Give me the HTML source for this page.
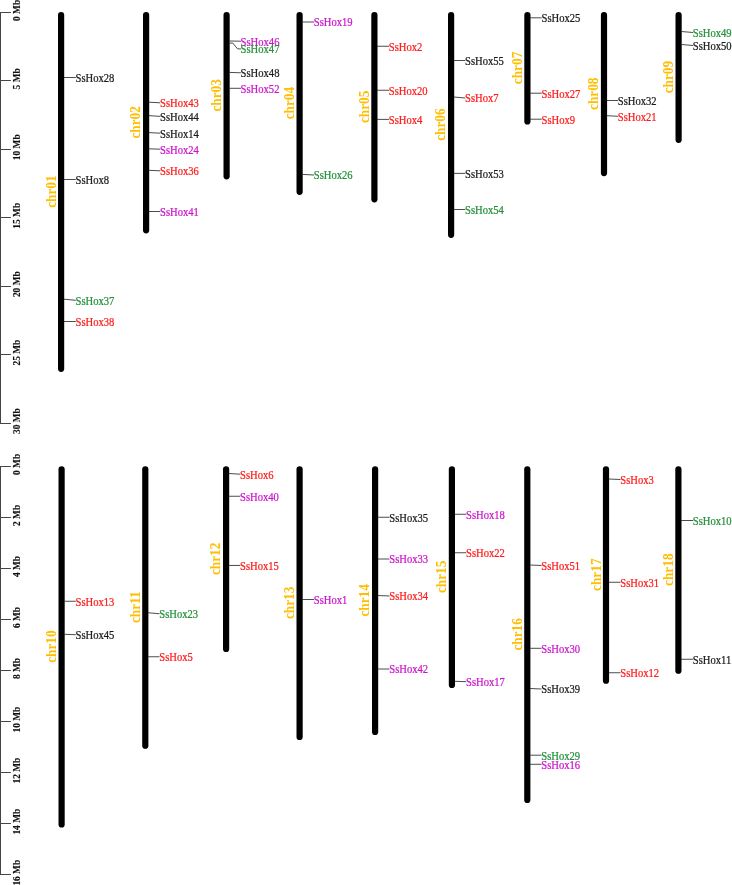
<!DOCTYPE html>
<html lang="en">
<head>
<meta charset="utf-8">
<title>SsHox chromosome map</title>
<style>
html,body{margin:0;padding:0;background:#fff;}
body{width:732px;height:885px;overflow:hidden;}
svg{display:block;}
.ax{font-family:"Liberation Serif","Times New Roman",serif;font-weight:bold;font-size:9.4px;fill:#111;stroke:#111;stroke-width:0.12;text-anchor:middle;}
.ch{font-family:"Liberation Serif","Times New Roman",serif;font-weight:bold;font-size:13.3px;fill:#ffbe00;text-anchor:middle;}
.g{font-family:"Liberation Serif","Times New Roman",serif;font-size:10.6px;stroke-width:0.22;}
.bar{stroke:#000;stroke-width:6.2;stroke-linecap:round;fill:none;}
.ln{stroke:#1e1e1e;stroke-width:0.8;fill:none;}
.tk{stroke:#454545;stroke-width:1;fill:none;}
</style>
</head>
<body>
<svg width="732" height="885" viewBox="0 0 732 885">
<rect x="0" y="0" width="732" height="885" fill="#ffffff"/>

<path class="tk" d="M0.5 12.00 V424.00"/>
<path class="tk" d="M0 12.50 H10.9"/>
<text class="ax" transform="translate(20.0 10.40) rotate(-90)">0 Mb</text>
<path class="tk" d="M0 80.50 H10.9"/>
<text class="ax" transform="translate(20.0 78.85) rotate(-90)">5 Mb</text>
<path class="tk" d="M0 149.50 H10.9"/>
<text class="ax" transform="translate(20.0 147.30) rotate(-90)">10 Mb</text>
<path class="tk" d="M0 217.50 H10.9"/>
<text class="ax" transform="translate(20.0 215.75) rotate(-90)">15 Mb</text>
<path class="tk" d="M0 286.50 H10.9"/>
<text class="ax" transform="translate(20.0 284.20) rotate(-90)">20 Mb</text>
<path class="tk" d="M0 354.50 H10.9"/>
<text class="ax" transform="translate(20.0 352.65) rotate(-90)">25 Mb</text>
<path class="tk" d="M0 423.50 H10.9"/>
<text class="ax" transform="translate(20.0 421.10) rotate(-90)">30 Mb</text>
<path class="tk" d="M0.5 466.00 V875.00"/>
<path class="tk" d="M0 466.50 H10.9"/>
<text class="ax" transform="translate(20.0 464.40) rotate(-90)">0 Mb</text>
<path class="tk" d="M0 517.50 H10.9"/>
<text class="ax" transform="translate(20.0 515.44) rotate(-90)">2 Mb</text>
<path class="tk" d="M0 568.50 H10.9"/>
<text class="ax" transform="translate(20.0 566.48) rotate(-90)">4 Mb</text>
<path class="tk" d="M0 619.50 H10.9"/>
<text class="ax" transform="translate(20.0 617.52) rotate(-90)">6 Mb</text>
<path class="tk" d="M0 670.50 H10.9"/>
<text class="ax" transform="translate(20.0 668.56) rotate(-90)">8 Mb</text>
<path class="tk" d="M0 721.50 H10.9"/>
<text class="ax" transform="translate(20.0 719.60) rotate(-90)">10 Mb</text>
<path class="tk" d="M0 772.50 H10.9"/>
<text class="ax" transform="translate(20.0 770.64) rotate(-90)">12 Mb</text>
<path class="tk" d="M0 823.50 H10.9"/>
<text class="ax" transform="translate(20.0 821.68) rotate(-90)">14 Mb</text>
<path class="tk" d="M0 874.50 H10.9"/>
<text class="ax" transform="translate(20.0 872.72) rotate(-90)">16 Mb</text>
<path class="bar" d="M61.10 15.00 V368.80"/>
<text class="ch" transform="translate(56.40 191.60) rotate(-90) scale(1 1.06)">chr01</text>
<path class="ln" d="M63.90 77.50 H75.80"/>
<text class="g" transform="translate(75.50 81.90) scale(1 1.08)" fill="#1a1a1a" stroke="#1a1a1a">SsHox28</text>
<path class="ln" d="M63.90 179.50 H75.80"/>
<text class="g" transform="translate(75.50 183.90) scale(1 1.08)" fill="#1a1a1a" stroke="#1a1a1a">SsHox8</text>
<path class="ln" d="M63.90 299.20 L75.80 300.30"/>
<text class="g" transform="translate(75.50 304.70) scale(1 1.08)" fill="#23903a" stroke="#23903a">SsHox37</text>
<path class="ln" d="M63.90 321.50 H75.80"/>
<text class="g" transform="translate(75.50 325.90) scale(1 1.08)" fill="#ff1a1a" stroke="#ff1a1a">SsHox38</text>
<path class="bar" d="M146.10 15.00 V230.30"/>
<text class="ch" transform="translate(140.40 122.35) rotate(-90) scale(1 1.06)">chr02</text>
<path class="ln" d="M148.90 102.20 L160.30 102.80"/>
<text class="g" transform="translate(160.00 107.20) scale(1 1.08)" fill="#ff1a1a" stroke="#ff1a1a">SsHox43</text>
<path class="ln" d="M148.90 115.60 L160.30 116.40"/>
<text class="g" transform="translate(160.00 120.80) scale(1 1.08)" fill="#1a1a1a" stroke="#1a1a1a">SsHox44</text>
<path class="ln" d="M148.90 132.60 L160.30 133.20"/>
<text class="g" transform="translate(160.00 137.60) scale(1 1.08)" fill="#1a1a1a" stroke="#1a1a1a">SsHox14</text>
<path class="ln" d="M148.90 148.80 L160.30 149.20"/>
<text class="g" transform="translate(160.00 153.60) scale(1 1.08)" fill="#cc14cc" stroke="#cc14cc">SsHox24</text>
<path class="ln" d="M148.90 170.30 L160.30 170.80"/>
<text class="g" transform="translate(160.00 175.20) scale(1 1.08)" fill="#ff1a1a" stroke="#ff1a1a">SsHox36</text>
<path class="ln" d="M148.90 211.50 H160.30"/>
<text class="g" transform="translate(160.00 215.90) scale(1 1.08)" fill="#cc14cc" stroke="#cc14cc">SsHox41</text>
<path class="bar" d="M226.60 15.00 V176.30"/>
<text class="ch" transform="translate(220.90 95.35) rotate(-90) scale(1 1.06)">chr03</text>
<path class="ln" d="M229.40 41.00 L240.90 41.20"/>
<text class="g" transform="translate(240.60 45.60) scale(1 1.08)" fill="#cc14cc" stroke="#cc14cc">SsHox46</text>
<path class="ln" d="M229.40 43.10 H232.80 L237.60 48.90 H240.90"/>
<text class="g" transform="translate(240.60 53.30) scale(1 1.08)" fill="#23903a" stroke="#23903a">SsHox47</text>
<path class="ln" d="M229.40 72.40 L240.90 72.80"/>
<text class="g" transform="translate(240.60 77.20) scale(1 1.08)" fill="#1a1a1a" stroke="#1a1a1a">SsHox48</text>
<path class="ln" d="M229.40 88.30 H240.90"/>
<text class="g" transform="translate(240.60 92.70) scale(1 1.08)" fill="#cc14cc" stroke="#cc14cc">SsHox52</text>
<path class="bar" d="M299.60 15.00 V191.80"/>
<text class="ch" transform="translate(293.90 103.10) rotate(-90) scale(1 1.06)">chr04</text>
<path class="ln" d="M302.40 22.00 H314.05"/>
<text class="g" transform="translate(313.75 26.40) scale(1 1.08)" fill="#cc14cc" stroke="#cc14cc">SsHox19</text>
<path class="ln" d="M302.40 174.40 L314.05 175.00"/>
<text class="g" transform="translate(313.75 179.40) scale(1 1.08)" fill="#23903a" stroke="#23903a">SsHox26</text>
<path class="bar" d="M374.40 15.00 V199.30"/>
<text class="ch" transform="translate(369.10 106.85) rotate(-90) scale(1 1.06)">chr05</text>
<path class="ln" d="M377.20 46.25 H389.05"/>
<text class="g" transform="translate(388.75 50.65) scale(1 1.08)" fill="#ff1a1a" stroke="#ff1a1a">SsHox2</text>
<path class="ln" d="M377.20 90.25 H389.05"/>
<text class="g" transform="translate(388.75 94.65) scale(1 1.08)" fill="#ff1a1a" stroke="#ff1a1a">SsHox20</text>
<path class="ln" d="M377.20 119.40 H389.05"/>
<text class="g" transform="translate(388.75 123.80) scale(1 1.08)" fill="#ff1a1a" stroke="#ff1a1a">SsHox4</text>
<path class="bar" d="M451.10 15.00 V234.80"/>
<text class="ch" transform="translate(445.40 124.60) rotate(-90) scale(1 1.06)">chr06</text>
<path class="ln" d="M453.90 60.50 H465.30"/>
<text class="g" transform="translate(465.00 64.90) scale(1 1.08)" fill="#1a1a1a" stroke="#1a1a1a">SsHox55</text>
<path class="ln" d="M453.90 97.00 L465.30 98.00"/>
<text class="g" transform="translate(465.00 102.40) scale(1 1.08)" fill="#ff1a1a" stroke="#ff1a1a">SsHox7</text>
<path class="ln" d="M453.90 173.40 H465.30"/>
<text class="g" transform="translate(465.00 177.80) scale(1 1.08)" fill="#1a1a1a" stroke="#1a1a1a">SsHox53</text>
<path class="ln" d="M453.90 209.50 H465.30"/>
<text class="g" transform="translate(465.00 213.90) scale(1 1.08)" fill="#23903a" stroke="#23903a">SsHox54</text>
<path class="bar" d="M527.40 15.00 V121.50"/>
<text class="ch" transform="translate(521.70 67.95) rotate(-90) scale(1 1.06)">chr07</text>
<path class="ln" d="M530.20 17.80 H541.80"/>
<text class="g" transform="translate(541.50 22.20) scale(1 1.08)" fill="#1a1a1a" stroke="#1a1a1a">SsHox25</text>
<path class="ln" d="M530.20 93.20 H541.80"/>
<text class="g" transform="translate(541.50 97.60) scale(1 1.08)" fill="#ff1a1a" stroke="#ff1a1a">SsHox27</text>
<path class="ln" d="M530.20 119.20 H541.80"/>
<text class="g" transform="translate(541.50 123.60) scale(1 1.08)" fill="#ff1a1a" stroke="#ff1a1a">SsHox9</text>
<path class="bar" d="M604.00 15.00 V173.05"/>
<text class="ch" transform="translate(598.30 93.73) rotate(-90) scale(1 1.06)">chr08</text>
<path class="ln" d="M606.80 100.50 H618.05"/>
<text class="g" transform="translate(617.75 104.90) scale(1 1.08)" fill="#1a1a1a" stroke="#1a1a1a">SsHox32</text>
<path class="ln" d="M606.80 115.70 L618.05 116.30"/>
<text class="g" transform="translate(617.75 120.70) scale(1 1.08)" fill="#ff1a1a" stroke="#ff1a1a">SsHox21</text>
<path class="bar" d="M678.60 15.00 V139.80"/>
<text class="ch" transform="translate(672.90 77.10) rotate(-90) scale(1 1.06)">chr09</text>
<path class="ln" d="M681.40 31.50 L693.05 32.50"/>
<text class="g" transform="translate(692.75 36.90) scale(1 1.08)" fill="#23903a" stroke="#23903a">SsHox49</text>
<path class="ln" d="M681.40 44.50 L693.05 45.50"/>
<text class="g" transform="translate(692.75 49.90) scale(1 1.08)" fill="#1a1a1a" stroke="#1a1a1a">SsHox50</text>
<path class="bar" d="M61.60 469.35 V824.50"/>
<text class="ch" transform="translate(55.90 646.62) rotate(-90) scale(1 1.06)">chr10</text>
<path class="ln" d="M64.40 601.25 H75.80"/>
<text class="g" transform="translate(75.50 605.65) scale(1 1.08)" fill="#ff1a1a" stroke="#ff1a1a">SsHox13</text>
<path class="ln" d="M64.40 634.30 L75.80 634.70"/>
<text class="g" transform="translate(75.50 639.10) scale(1 1.08)" fill="#1a1a1a" stroke="#1a1a1a">SsHox45</text>
<path class="bar" d="M145.30 469.35 V745.65"/>
<text class="ch" transform="translate(139.60 607.20) rotate(-90) scale(1 1.06)">chr11</text>
<path class="ln" d="M148.10 612.75 L159.55 613.75"/>
<text class="g" transform="translate(159.25 618.15) scale(1 1.08)" fill="#23903a" stroke="#23903a">SsHox23</text>
<path class="ln" d="M148.10 656.75 H159.55"/>
<text class="g" transform="translate(159.25 661.15) scale(1 1.08)" fill="#ff1a1a" stroke="#ff1a1a">SsHox5</text>
<path class="bar" d="M226.10 469.35 V648.90"/>
<text class="ch" transform="translate(220.40 558.83) rotate(-90) scale(1 1.06)">chr12</text>
<path class="ln" d="M228.90 473.50 L240.30 474.20"/>
<text class="g" transform="translate(240.00 478.60) scale(1 1.08)" fill="#ff1a1a" stroke="#ff1a1a">SsHox6</text>
<path class="ln" d="M228.90 496.25 H240.30"/>
<text class="g" transform="translate(240.00 500.65) scale(1 1.08)" fill="#cc14cc" stroke="#cc14cc">SsHox40</text>
<path class="ln" d="M228.90 565.45 H240.30"/>
<text class="g" transform="translate(240.00 569.85) scale(1 1.08)" fill="#ff1a1a" stroke="#ff1a1a">SsHox15</text>
<path class="bar" d="M299.60 469.35 V736.90"/>
<text class="ch" transform="translate(293.90 602.83) rotate(-90) scale(1 1.06)">chr13</text>
<path class="ln" d="M302.40 599.50 H314.05"/>
<text class="g" transform="translate(313.75 603.90) scale(1 1.08)" fill="#cc14cc" stroke="#cc14cc">SsHox1</text>
<path class="bar" d="M375.10 469.35 V731.90"/>
<text class="ch" transform="translate(369.40 600.33) rotate(-90) scale(1 1.06)">chr14</text>
<path class="ln" d="M377.90 517.25 H389.55"/>
<text class="g" transform="translate(389.25 521.65) scale(1 1.08)" fill="#1a1a1a" stroke="#1a1a1a">SsHox35</text>
<path class="ln" d="M377.90 559.00 H389.55"/>
<text class="g" transform="translate(389.25 563.40) scale(1 1.08)" fill="#cc14cc" stroke="#cc14cc">SsHox33</text>
<path class="ln" d="M377.90 595.50 L389.55 596.00"/>
<text class="g" transform="translate(389.25 600.40) scale(1 1.08)" fill="#ff1a1a" stroke="#ff1a1a">SsHox34</text>
<path class="ln" d="M377.90 669.00 H389.55"/>
<text class="g" transform="translate(389.25 673.40) scale(1 1.08)" fill="#cc14cc" stroke="#cc14cc">SsHox42</text>
<path class="bar" d="M451.90 469.35 V684.90"/>
<text class="ch" transform="translate(446.20 576.83) rotate(-90) scale(1 1.06)">chr15</text>
<path class="ln" d="M454.70 514.25 H466.30"/>
<text class="g" transform="translate(466.00 518.65) scale(1 1.08)" fill="#cc14cc" stroke="#cc14cc">SsHox18</text>
<path class="ln" d="M454.70 552.75 H466.30"/>
<text class="g" transform="translate(466.00 557.15) scale(1 1.08)" fill="#ff1a1a" stroke="#ff1a1a">SsHox22</text>
<path class="ln" d="M454.70 681.30 L466.30 681.70"/>
<text class="g" transform="translate(466.00 686.10) scale(1 1.08)" fill="#cc14cc" stroke="#cc14cc">SsHox17</text>
<path class="bar" d="M527.30 469.35 V799.90"/>
<text class="ch" transform="translate(521.60 634.33) rotate(-90) scale(1 1.06)">chr16</text>
<path class="ln" d="M530.10 565.00 L541.55 565.50"/>
<text class="g" transform="translate(541.25 569.90) scale(1 1.08)" fill="#ff1a1a" stroke="#ff1a1a">SsHox51</text>
<path class="ln" d="M530.10 648.30 H541.55"/>
<text class="g" transform="translate(541.25 652.70) scale(1 1.08)" fill="#cc14cc" stroke="#cc14cc">SsHox30</text>
<path class="ln" d="M530.10 688.50 L541.55 689.00"/>
<text class="g" transform="translate(541.25 693.40) scale(1 1.08)" fill="#1a1a1a" stroke="#1a1a1a">SsHox39</text>
<path class="ln" d="M530.10 755.20 H541.55"/>
<text class="g" transform="translate(541.25 759.60) scale(1 1.08)" fill="#23903a" stroke="#23903a">SsHox29</text>
<path class="ln" d="M530.10 764.30 H541.55"/>
<text class="g" transform="translate(541.25 768.70) scale(1 1.08)" fill="#cc14cc" stroke="#cc14cc">SsHox16</text>
<path class="bar" d="M606.00 469.35 V680.65"/>
<text class="ch" transform="translate(601.00 574.70) rotate(-90) scale(1 1.06)">chr17</text>
<path class="ln" d="M608.80 479.00 L620.55 479.50"/>
<text class="g" transform="translate(620.25 483.90) scale(1 1.08)" fill="#ff1a1a" stroke="#ff1a1a">SsHox3</text>
<path class="ln" d="M608.80 582.25 H620.55"/>
<text class="g" transform="translate(620.25 586.65) scale(1 1.08)" fill="#ff1a1a" stroke="#ff1a1a">SsHox31</text>
<path class="ln" d="M608.80 672.75 H620.55"/>
<text class="g" transform="translate(620.25 677.15) scale(1 1.08)" fill="#ff1a1a" stroke="#ff1a1a">SsHox12</text>
<path class="bar" d="M678.40 469.35 V670.65"/>
<text class="ch" transform="translate(672.70 569.70) rotate(-90) scale(1 1.06)">chr18</text>
<path class="ln" d="M681.20 520.50 H693.05"/>
<text class="g" transform="translate(692.75 524.90) scale(1 1.08)" fill="#23903a" stroke="#23903a">SsHox10</text>
<path class="ln" d="M681.20 659.25 H693.05"/>
<text class="g" transform="translate(692.75 663.65) scale(1 1.08)" fill="#1a1a1a" stroke="#1a1a1a">SsHox11</text>
</svg>
</body>
</html>
